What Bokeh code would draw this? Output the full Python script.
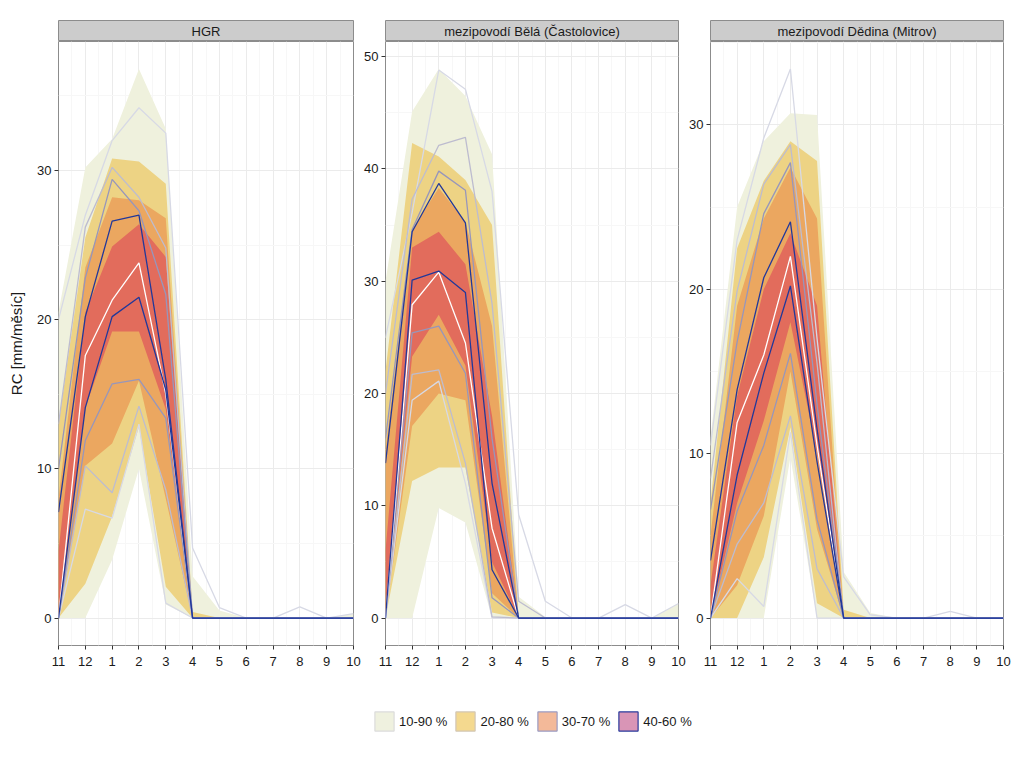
from bokeh.plotting import figure
from bokeh.models import Range1d, FixedTicker, Legend, LegendItem
from bokeh.layouts import row, column
from bokeh.embed import file_html
from bokeh.resources import INLINE
from bokeh.core.properties import value

# ---------------- data ----------------
months = ["11", "12", "1", "2", "3", "4", "5", "6", "7", "8", "9", "10"]
panel_names = ["HGR", "mezipovodí Bělá (Častolovice)", "mezipovodí Dědina (Mitrov)"]
band_labels = ["10-90 %", "20-80 %", "30-70 %", "40-60 %"]

# HGR ribbons
hgr_b1090_lo = [0, 0, 3.9, 10.0, 0.9, 0, 0, 0, 0, 0, 0, 0]
hgr_b1090_hi = [20.5, 30.2, 32.1, 36.8, 32.8, 2.8, 0.5, 0, 0, 0, 0, 0.3]
hgr_b2080_lo = [0, 2.3, 6.8, 12.8, 2.1, 0, 0, 0, 0, 0, 0, 0]
hgr_b2080_hi = [13.0, 25.5, 30.8, 30.6, 29.1, 0.4, 0, 0, 0, 0, 0, 0]
hgr_b3070_lo = [0, 10.2, 11.7, 15.9, 8.0, 0, 0, 0, 0, 0, 0, 0]
hgr_b3070_hi = [8.0, 23.5, 28.2, 28.0, 26.8, 0, 0, 0, 0, 0, 0, 0]
hgr_b4060_lo = [0, 14.1, 19.2, 19.2, 14.0, 0, 0, 0, 0, 0, 0, 0]
hgr_b4060_hi = [4.5, 20.5, 24.9, 26.4, 24.2, 0, 0, 0, 0, 0, 0, 0]
# HGR quantile lines
hgr_q10 = [0, 7.3, 6.7, 13.0, 1.0, 0, 0, 0, 0, 0, 0, 0]
hgr_q20 = [0, 10.2, 8.4, 14.2, 8.6, 0, 0, 0, 0, 0, 0, 0]
hgr_q30 = [0, 11.9, 15.7, 16.0, 13.4, 0, 0, 0, 0, 0, 0, 0]
hgr_q40 = [0, 14.1, 20.2, 21.5, 15.3, 0, 0, 0, 0, 0, 0, 0]
hgr_q50 = [0, 17.6, 21.3, 23.8, 15.0, 0, 0, 0, 0, 0, 0, 0]
hgr_q60 = [7.1, 20.2, 26.6, 27.0, 16.0, 0, 0, 0, 0, 0, 0, 0]
hgr_q70 = [10.0, 22.8, 29.4, 27.3, 21.7, 0, 0, 0, 0, 0, 0, 0]
hgr_q80 = [13.0, 26.2, 30.2, 28.2, 24.8, 0, 0, 0, 0, 0, 0, 0]
hgr_q90 = [20.0, 27.0, 32.0, 34.2, 32.5, 4.7, 0.7, 0, 0, 0.75, 0, 0.3]

# Bela ribbons
bela_b1090_lo = [0, 0, 9.8, 8.5, 0, 0, 0, 0, 0, 0, 0, 0]
bela_b1090_hi = [30.0, 45.1, 48.9, 46.5, 41.3, 1.9, 0.1, 0, 0, 0, 0, 1.3]
bela_b2080_lo = [0, 12.2, 13.4, 13.4, 0.5, 0, 0, 0, 0, 0, 0, 0]
bela_b2080_hi = [22.0, 42.3, 41.1, 39.0, 35.0, 0, 0, 0, 0, 0, 0, 0]
bela_b3070_lo = [0, 17.1, 20.0, 19.4, 2.2, 0, 0, 0, 0, 0, 0, 0]
bela_b3070_hi = [15.0, 34.6, 38.3, 35.3, 26.0, 0, 0, 0, 0, 0, 0, 0]
bela_b4060_lo = [0, 23.3, 27.0, 22.5, 5.0, 0, 0, 0, 0, 0, 0, 0]
bela_b4060_hi = [6.0, 33.0, 34.4, 31.5, 18.0, 0, 0, 0, 0, 0, 0, 0]
# Bela quantile lines
bela_q10 = [0, 19.4, 21.1, 12.0, 0, 0, 0, 0, 0, 0, 0, 0]
bela_q20 = [0, 21.7, 22.1, 13.8, 0.1, 0, 0, 0, 0, 0, 0, 0]
bela_q30 = [0, 25.4, 26.0, 21.8, 1.8, 0, 0, 0, 0, 0, 0, 0]
bela_q40 = [0, 30.1, 30.9, 29.0, 4.3, 0, 0, 0, 0, 0, 0, 0]
bela_q50 = [0, 27.9, 30.8, 24.5, 8.0, 0, 0, 0, 0, 0, 0, 0]
bela_q60 = [13.8, 34.4, 38.7, 35.2, 12.0, 0, 0, 0, 0, 0, 0, 0]
bela_q70 = [16.0, 34.6, 39.8, 38.1, 16.0, 0, 0, 0, 0, 0, 0, 0]
bela_q80 = [20.0, 37.3, 42.1, 42.8, 28.0, 1.5, 0, 0, 0, 0, 0, 0]
bela_q90 = [25.0, 36.1, 48.8, 47.1, 38.0, 9.2, 1.5, 0, 0, 1.2, 0, 1.3]

# Dedina ribbons
ded_b1090_lo = [0, 0, 0, 9.8, 0, 0, 0, 0, 0, 0, 0, 0]
ded_b1090_hi = [11.0, 25.0, 29.0, 30.7, 30.6, 2.8, 0.3, 0, 0, 0, 0, 0]
ded_b2080_lo = [0, 0, 3.7, 11.6, 0.9, 0, 0, 0, 0, 0, 0, 0]
ded_b2080_hi = [7.0, 22.5, 26.6, 29.0, 27.8, 0.5, 0, 0, 0, 0, 0, 0]
ded_b3070_lo = [0, 2.0, 6.2, 15.0, 5.4, 0, 0, 0, 0, 0, 0, 0]
ded_b3070_hi = [5.0, 19.0, 24.3, 27.4, 24.3, 0, 0, 0, 0, 0, 0, 0]
ded_b4060_lo = [0, 7.0, 12.0, 18.0, 10.0, 0, 0, 0, 0, 0, 0, 0]
ded_b4060_hi = [2.0, 13.5, 20.0, 23.4, 19.0, 0, 0, 0, 0, 0, 0, 0]
# Dedina quantile lines
ded_q10 = [0, 2.4, 0.7, 11.3, 0, 0, 0, 0, 0, 0, 0, 0]
ded_q20 = [0, 4.5, 7.0, 12.3, 3.0, 0, 0, 0, 0, 0, 0, 0]
ded_q30 = [0, 6.5, 10.5, 16.1, 6.0, 0, 0, 0, 0, 0, 0, 0]
ded_q40 = [0, 8.7, 14.9, 20.2, 9.5, 0, 0, 0, 0, 0, 0, 0]
ded_q50 = [0, 11.9, 16.0, 22.0, 10.5, 0, 0, 0, 0, 0, 0, 0]
ded_q60 = [3.5, 13.9, 20.7, 24.1, 11.5, 0, 0, 0, 0, 0, 0, 0]
ded_q70 = [6.6, 16.8, 24.6, 27.7, 13.0, 0, 0, 0, 0, 0, 0, 0]
ded_q80 = [8.5, 19.9, 26.4, 28.8, 15.5, 0, 0, 0, 0, 0, 0, 0]
ded_q90 = [10.5, 23.0, 29.2, 33.4, 17.0, 2.5, 0.2, 0, 0, 0.4, 0, 0]

# ---------------- styles ----------------
FONT = "Liberation Sans"
band_fill = ["#eff1dd", "#edd384", "#eba760", "#e26c5c"]
key_fill = ["#eff1df", "#f4d98f", "#f3b999", "#d995b6"]
key_line = ["#dcdcdc", "#d2c6b4", "#9b9bc2", "#2a3b9c"]
c_q1090 = "#d7d9e5"
c_q2080 = "#bdbccf"
c_q3070 = "#9796bb"
c_q4060 = "#22389a"
c_q50 = "#ffffff"

widths = [361, 325, 338]
lefts = [58, 22, 22]
rights = [8, 8, 21]

panel_bands = [
    [(hgr_b1090_lo, hgr_b1090_hi), (hgr_b2080_lo, hgr_b2080_hi),
     (hgr_b3070_lo, hgr_b3070_hi), (hgr_b4060_lo, hgr_b4060_hi)],
    [(bela_b1090_lo, bela_b1090_hi), (bela_b2080_lo, bela_b2080_hi),
     (bela_b3070_lo, bela_b3070_hi), (bela_b4060_lo, bela_b4060_hi)],
    [(ded_b1090_lo, ded_b1090_hi), (ded_b2080_lo, ded_b2080_hi),
     (ded_b3070_lo, ded_b3070_hi), (ded_b4060_lo, ded_b4060_hi)],
]
panel_lines = [
    [hgr_q10, hgr_q20, hgr_q30, hgr_q40, hgr_q50, hgr_q60, hgr_q70, hgr_q80, hgr_q90],
    [bela_q10, bela_q20, bela_q30, bela_q40, bela_q50, bela_q60, bela_q70, bela_q80, bela_q90],
    [ded_q10, ded_q20, ded_q30, ded_q40, ded_q50, ded_q60, ded_q70, ded_q80, ded_q90],
]
line_colors = [c_q1090, c_q2080, c_q3070, c_q4060, c_q50, c_q4060, c_q3070, c_q2080, c_q1090]
draw_order = [0, 8, 1, 7, 2, 6, 4, 3, 5]

xs = list(range(len(months)))


def style_axis(ax):
    ax.axis_line_color = None
    ax.major_tick_line_color = "#333333"
    ax.major_tick_out = 4
    ax.major_tick_in = 0
    ax.minor_tick_line_color = None
    ax.major_label_text_font = FONT
    ax.major_label_text_font_size = "13px"
    ax.major_label_text_color = "#1a1a1a"


columns = []
for i in range(3):
    # strip header
    s = figure(width=widths[i], height=41, x_range=Range1d(0, 1), y_range=Range1d(0, 1),
               output_backend="svg", toolbar_location=None,
               x_axis_location=None, y_axis_location=None,
               min_border_left=lefts[i], min_border_right=rights[i],
               min_border_top=20, min_border_bottom=0)
    s.grid.visible = False
    s.background_fill_color = "#cccccc"
    s.outline_line_color = "#8c8c8c"
    s.text(x=[0.5], y=[0.5], text=[panel_names[i]], text_align="center",
           text_baseline="middle", text_font=value(FONT), text_font_size="13px",
           text_color="#1a1a1a")

    bands = panel_bands[i]
    lines = panel_lines[i]
    ymax = max(max(v) for pair in bands for v in pair)
    ymax = max(ymax, max(max(v) for v in lines))
    p = figure(width=widths[i], height=640,
               x_range=Range1d(0, len(months) - 1),
               y_range=Range1d(-0.05 * ymax, 1.05 * ymax),
               output_backend="svg", toolbar_location=None,
               min_border_left=lefts[i], min_border_right=rights[i],
               min_border_top=0, min_border_bottom=36)
    p.outline_line_color = "#8c8c8c"
    p.background_fill_color = "white"

    p.xaxis.ticker = FixedTicker(ticks=xs, minor_ticks=[x + 0.5 for x in xs[:-1]])
    p.xaxis.major_label_overrides = {x: m for x, m in zip(xs, months)}
    yt = list(range(0, int(ymax * 1.05) + 1, 10))
    ym = [t + 5 for t in yt if t + 5 < ymax * 1.05]
    p.yaxis.ticker = FixedTicker(ticks=yt, minor_ticks=ym)
    style_axis(p.xaxis[0])
    style_axis(p.yaxis[0])
    p.xaxis.major_label_standoff = 7
    p.yaxis.major_label_standoff = 3

    for g in (p.xgrid[0], p.ygrid[0]):
        g.grid_line_color = "#ebebeb"
        g.minor_grid_line_color = "#f7f7f7"

    if i == 0:
        p.yaxis.axis_label = "RC [mm/měsíc]"
        p.yaxis.axis_label_text_font = FONT
        p.yaxis.axis_label_text_font_size = "15px"
        p.yaxis.axis_label_text_font_style = "normal"
        p.yaxis.axis_label_text_color = "#1a1a1a"
        p.yaxis.axis_label_standoff = 9

    for (lo, hi), fc in zip(bands, band_fill):
        p.varea(x=xs, y1=lo, y2=hi, fill_color=fc, fill_alpha=1.0)

    for k in draw_order:
        p.line(x=xs, y=lines[k], line_color=line_colors[k], line_width=1.3)

    columns.append(column(s, p))

# legend (proxy glyphs placed outside the visible range; only their keys are shown)
leg = figure(width=1024, height=82, output_backend="svg", toolbar_location=None,
             x_range=Range1d(0, 1), y_range=Range1d(0, 1),
             x_axis_location=None, y_axis_location=None, min_border=0)
leg.grid.visible = False
leg.outline_line_color = None
items = []
for lab, fc, lc in zip(band_labels, key_fill, key_line):
    r = leg.quad(left=[-5], right=[-4], top=[-4], bottom=[-5],
                 fill_color=fc, line_color=lc, line_width=1.2)
    items.append(LegendItem(label=lab, renderers=[r]))
legend = Legend(items=items, orientation="horizontal", location=(372, 30),
                glyph_width=24, glyph_height=24, label_text_font=FONT,
                label_text_font_size="13px", label_text_color="#1a1a1a",
                padding=0, margin=0, spacing=6, label_standoff=3,
                border_line_color=None, background_fill_alpha=0)
leg.add_layout(legend, "center")

layout = column(row(*columns), leg)
open("out.html", "w").write(file_html(layout, INLINE))
